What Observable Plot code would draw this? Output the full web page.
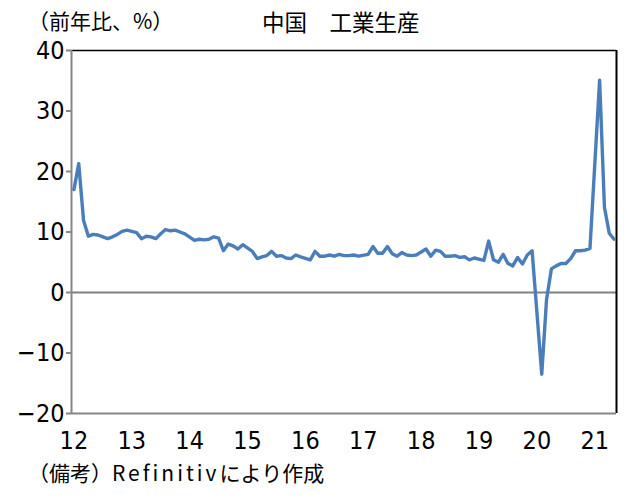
<!DOCTYPE html>
<html><head><meta charset="utf-8">
<script src="https://cdn.jsdelivr.net/npm/d3@7"></script>
<script src="https://cdn.jsdelivr.net/npm/@observablehq/plot@0.6"></script>
<style>
body{margin:0;background:#fff;}
#wrap{position:relative;width:634px;height:500px;font-family:"Noto Sans CJK JP",sans-serif;color:#000;}
.t{position:absolute;white-space:nowrap;line-height:1;}
#chart{position:absolute;left:0;top:40px;}
</style></head>
<body><div id="wrap">
<div class="t" style="left:28px;top:10px;font-size:21px;">（前年比、%）</div>
<div class="t" style="left:262px;top:10px;font-size:22.5px;">中国　工業生産</div>
<div id="chart"></div>
<div class="t" style="left:28px;top:462px;font-size:21px;">（備考）<span style="letter-spacing:3px">Refinitiv</span>により作成</div>
</div>
<script>
// China industrial production, YoY %, monthly (Jan 2012 = index 0); null = not reported
const years = [2012,2013,2014,2015,2016,2017,2018,2019,2020,2021];
const y2012 = [17.0, 21.3, 11.9, 9.3, 9.6, 9.5, 9.2, 8.9, 9.2, 9.6, 10.1, 10.3];
const y2013 = [null, 9.9, 8.9, 9.3, 9.2, 8.9, 9.7, 10.4, 10.2, 10.3, 10.0, 9.7];
const y2014 = [null, 8.6, 8.8, 8.7, 8.8, 9.2, 9.0, 6.9, 8.0, 7.7, 7.2, 7.9];
const y2015 = [null, 6.8, 5.6, 5.9, 6.1, 6.8, 6.0, 6.1, 5.7, 5.6, 6.2, 5.9];
const y2016 = [null, 5.4, 6.8, 6.0, 6.0, 6.2, 6.0, 6.3, 6.1, 6.1, 6.2, 6.0];
const y2017 = [null, 6.3, 7.6, 6.5, 6.5, 7.6, 6.4, 6.0, 6.6, 6.2, 6.1, 6.2];
const y2018 = [null, 7.2, 6.0, 7.0, 6.8, 6.0, 6.0, 6.1, 5.8, 5.9, 5.4, 5.7];
const y2019 = [null, 5.3, 8.5, 5.4, 5.0, 6.3, 4.8, 4.4, 5.8, 4.7, 6.2, 6.9];
const y2020 = [null, -13.5, -1.1, 3.9, 4.4, 4.8, 4.8, 5.6, 6.9, 6.9, 7.0, 7.3];
const y2021 = [null, 35.1, 14.1, 9.8, 8.8];
const xTickLabels = ["12","13","14","15","16","17","18","19","20","21"];
const yTicks = [-20,-10,0,10,20,30,40];

const series = [y2012,y2013,y2014,y2015,y2016,y2017,y2018,y2019,y2020,y2021];
const data = [];
series.forEach((arr, yi) => arr.forEach((v, m) => {
  if (v !== null) data.push({t: yi*12 + m, v});
}));
const lastT = 9*12 + y2021.length - 1;
const xDomain = [-0.5, lastT + 0.5];
const xTicks = xTickLabels.map((_, i) => i*12);

const numFont = '"Liberation Sans Narrow","DejaVu Sans Condensed","Noto Sans CJK JP",sans-serif';

const chart = Plot.plot({
  width: 634, height: 420,
  marginTop: 10, marginBottom: 47, marginLeft: 71, marginRight: 18,
  style: {fontFamily: numFont, background: "#fff", overflow: "visible"},
  x: {type: "linear", domain: xDomain},
  y: {domain: [-20, 40]},
  marks: [
    Plot.ruleY([0], {stroke: "#808080", strokeWidth: 2}),
    Plot.ruleY([40], {stroke: "#000", strokeWidth: 1.5}),
    Plot.ruleX([xDomain[1]], {stroke: "#000", strokeWidth: 2}),
    Plot.ruleY([-20], {stroke: "#868686", strokeWidth: 2}),
    Plot.ruleX([xDomain[0]], {stroke: "#868686", strokeWidth: 2}),
    Plot.axisY({ticks: yTicks, tickSize: 5, stroke: "#868686", strokeWidth: 2, tickPadding: 2, fontSize: 25, label: null, fill: "#000"}),
    Plot.axisX({ticks: xTicks, tickFormat: (d) => xTickLabels[d/12], tickSize: 0, tickPadding: 18, fontSize: 25, label: null, fill: "#000"}),
    Plot.line(data, {x: "t", y: "v", stroke: "#4A7EBB", strokeWidth: 3.4, strokeLinejoin: "round"})
  ]
});
document.getElementById("chart").appendChild(chart);
</script>
</body></html>
